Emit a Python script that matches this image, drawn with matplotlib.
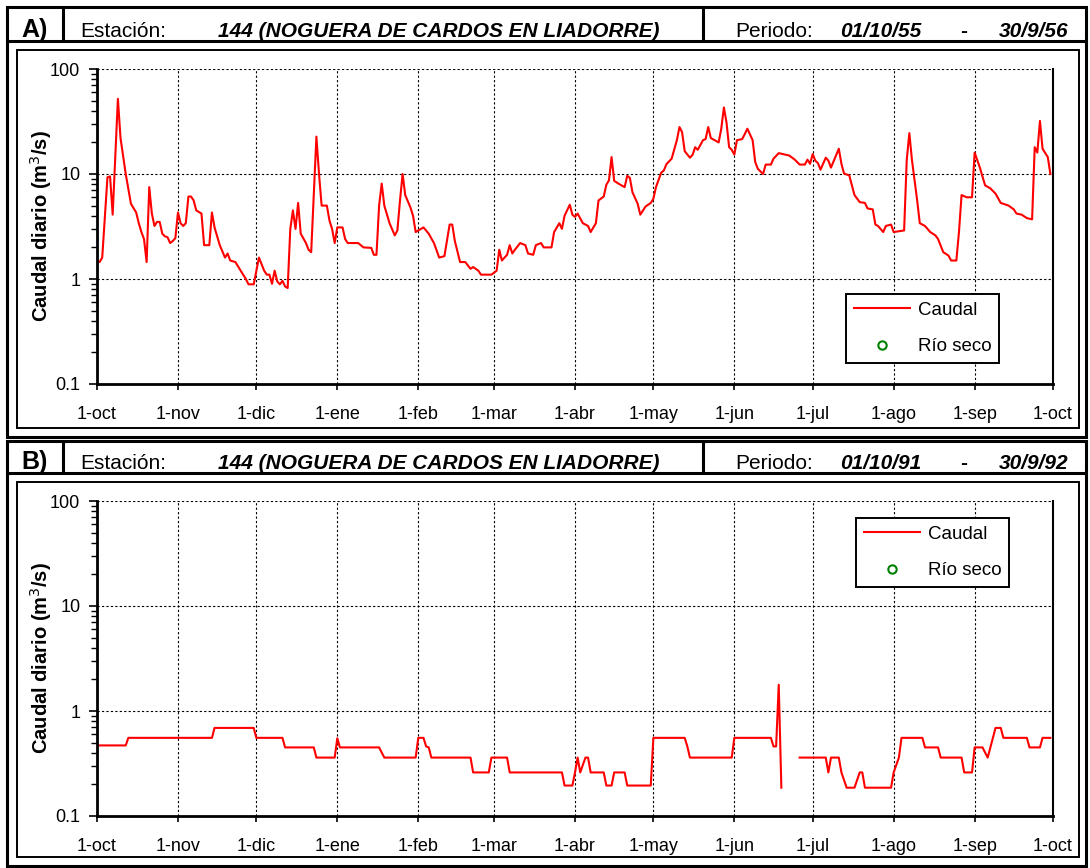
import numpy as np
import pandas as pd
import matplotlib
matplotlib.use('Agg')
import matplotlib.pyplot as plt
from matplotlib.patches import Rectangle
from matplotlib.lines import Line2D
from matplotlib.ticker import FixedLocator, NullFormatter, LogLocator

plt.rcParams['font.family'] = ['Liberation Sans', 'DejaVu Sans']

# --- datos ---------------------------------------------------------------
estacion = '144 (NOGUERA DE CARDOS EN LIADORRE)'
month_labels = ['1-oct', '1-nov', '1-dic', '1-ene', '1-feb', '1-mar', '1-abr',
                '1-may', '1-jun', '1-jul', '1-ago', '1-sep', '1-oct']

# A) 01/10/55 - 30/9/56 : dia desde el 1-oct, caudal (m3/s)
dias_a = [0, 1, 2, 4, 5, 6, 8, 9, 11, 12, 13, 15, 16, 17, 18, 19, 20, 21, 22, 23,
          24, 25, 26, 27, 28, 29, 30, 31, 32, 33, 34, 35, 36, 37, 38, 40, 41, 43, 44, 45,
          47, 49, 50, 51, 53, 55, 57, 58, 60, 62, 64, 65, 66, 67, 68, 69, 70, 71, 72, 73,
          74, 75, 76, 77, 78, 80, 81, 82, 84, 85, 86, 88, 89, 90, 91, 92, 94, 95, 96, 98,
          100, 102, 105, 106, 107, 108, 109, 110, 112, 114, 115, 116, 117, 118, 120, 121, 122, 124, 125, 127,
          129, 131, 133, 135, 136, 137, 139, 141, 143, 144, 146, 147, 151, 153, 154, 155, 157, 158, 159, 160,
          162, 164, 165, 167, 168, 170, 171, 174, 175, 177, 178, 179, 181, 182, 183, 184, 186, 188, 189, 191,
          192, 194, 195, 196, 197, 198, 200, 202, 203, 204, 205, 207, 208, 210, 212, 213, 214, 216, 217, 218,
          220, 222, 223, 224, 225, 227, 228, 229, 230, 232, 233, 234, 235, 238, 239, 240, 241, 242, 243, 244,
          245, 247, 248, 249, 251, 252, 253, 255, 256, 258, 259, 261, 265, 267, 269, 271, 272, 273, 274, 275,
          276, 277, 279, 280, 281, 284, 285, 286, 288, 290, 292, 294, 295, 297, 298, 299, 301, 302, 304, 305,
          309, 310, 311, 312, 314, 315, 317, 319, 321, 322, 324, 326, 327, 329, 330, 331, 333, 335, 336, 338,
          340, 342, 344, 346, 349, 351, 352, 354, 356, 358, 359, 360, 361, 362, 364, 365]
caudal_a = [1.5, 1.45, 1.6, 9.3, 9.5, 4.1, 52, 22, 10, 7.2, 5.2, 4.3, 3.4, 2.8, 2.4, 1.45, 7.5, 4.2, 3.2, 3.5,
            3.5, 2.7, 2.55, 2.5, 2.2, 2.3, 2.45, 4.3, 3.4, 3.2, 3.4, 6.1, 6.1, 5.6, 4.5, 4.2, 2.1, 2.1, 4.3, 3.1,
            2.1, 1.6, 1.75, 1.5, 1.45, 1.2, 1.0, 0.89, 0.89, 1.6, 1.2, 1.1, 1.1, 0.9, 1.2, 0.95, 0.89, 0.96, 0.85, 0.82,
            3.0, 4.5, 3.0, 5.3, 2.7, 2.2, 1.9, 1.8, 22.7, 10, 5.0, 5.0, 3.6, 3.0, 2.2, 3.1, 3.1, 2.4, 2.2, 2.2,
            2.2, 2.0, 1.98, 1.7, 1.7, 5.0, 8.1, 5.0, 3.4, 2.6, 2.9, 5.6, 10, 6.3, 4.8, 4.0, 2.8, 3.0, 3.1, 2.7,
            2.2, 1.6, 1.65, 3.3, 3.3, 2.3, 1.45, 1.45, 1.25, 1.3, 1.2, 1.1, 1.1, 1.2, 1.9, 1.5, 1.7, 2.1, 1.75, 1.9,
            2.2, 2.1, 1.75, 1.7, 2.1, 2.2, 2.0, 2.0, 2.8, 3.4, 3.0, 4.0, 5.1, 4.1, 3.9, 4.2, 3.4, 3.2, 2.8, 3.4,
            5.6, 6.1, 7.9, 8.7, 14.5, 8.6, 8.0, 7.5, 9.6, 9.2, 6.7, 5.2, 4.1, 4.9, 5.3, 5.8, 7.5, 10.3, 10.8, 12.4,
            14, 21, 28, 25, 16.5, 14.3, 15.2, 18, 17, 21, 21.5, 28, 22, 20, 27, 43, 31, 18, 17, 15.3,
            21, 21.5, 24, 27, 21, 13, 11.2, 10, 12.3, 12.3, 14, 15.8, 15.0, 13.8, 12.3, 12.3, 13.7, 12.5, 15.5, 13.4,
            12.7, 11, 14.3, 13.4, 11.5, 17.4, 12.5, 10.1, 9.7, 6.3, 5.4, 5.3, 4.7, 4.6, 3.3, 3.2, 2.8, 3.2, 3.3, 2.8,
            2.9, 13.6, 24.5, 13.6, 5.6, 3.4, 3.2, 2.8, 2.6, 2.4, 1.8, 1.67, 1.5, 1.5, 2.8, 6.3, 6.0, 6.0, 16, 11.5,
            7.8, 7.3, 6.5, 5.3, 5.0, 4.6, 4.2, 4.1, 3.8, 3.7, 18, 16, 32, 17.4, 14.5, 10]

# B) 01/10/91 - 30/9/92 (hueco sin datos a finales de junio)
dias_b = [0, 11, 12, 44, 45, 60, 61, 71, 72, 83, 84, 91, 92, 93, 108, 110, 122, 123, 125, 126,
          127, 128, 143, 144, 150, 151, 157, 158, 178, 179, 182, 183, 184, 185, 187, 188, 189, 194, 195, 197,
          198, 202, 203, 212, 213, 225, 226, 227, 243, 244, 258, 259, 260, 261, 262, 265, 269, 279, 280, 281,
          284, 285, 287, 290, 292, 293, 294, 304, 305, 307, 308, 316, 317, 322, 323, 331, 332, 335, 336, 339,
          341, 344, 346, 347, 356, 357, 361, 362, 365]
caudal_b = [0.47, 0.47, 0.555, 0.555, 0.69, 0.69, 0.555, 0.555, 0.45, 0.45, 0.36, 0.36, 0.55, 0.45, 0.45, 0.36, 0.36, 0.555, 0.555, 0.46,
            0.45, 0.36, 0.36, 0.26, 0.26, 0.36, 0.36, 0.26, 0.26, 0.195, 0.195, 0.26, 0.36, 0.26, 0.36, 0.36, 0.26, 0.26, 0.195, 0.195,
            0.26, 0.26, 0.195, 0.195, 0.555, 0.555, 0.46, 0.36, 0.36, 0.555, 0.555, 0.46, 0.46, 1.78, 0.186, np.nan, 0.36, 0.36, 0.26, 0.36,
            0.36, 0.26, 0.186, 0.186, 0.26, 0.26, 0.186, 0.186, 0.26, 0.36, 0.555, 0.555, 0.45, 0.45, 0.36, 0.36, 0.26, 0.26, 0.45, 0.45,
            0.36, 0.69, 0.69, 0.555, 0.555, 0.45, 0.45, 0.555, 0.555]

W, H = 1090, 868
fig = plt.figure(figsize=(W / 100, H / 100), dpi=100)


def fx(x):
    return x / W


def fy(y):
    return 1 - y / H


def rect(x0, y0, x1, y1, lw):
    fig.add_artist(Rectangle((fx(x0), fy(y1)), fx(x1) - fx(x0), fy(y0) - fy(y1),
                             transform=fig.transFigure, fill=False, lw=lw, ec='black'))


def line(x0, y0, x1, y1, lw):
    fig.add_artist(Line2D([fx(x0), fx(x1)], [fy(y0), fy(y1)], transform=fig.transFigure,
                          lw=lw, color='black', solid_capstyle='butt'))


def panel(letra, top, bottom, head_bot, ini, fin, dias, caudal, start, leg_xy):
    # marcos
    rect(7, top, 1086, bottom, 2.2)
    line(7, head_bot, 1086, head_bot, 2.2)
    line(63, top, 63, head_bot, 2.2)
    line(703, top, 703, head_bot, 2.2)
    rect(17, head_bot + 9, 1079, bottom - 9, 1.4)

    # cabecera
    yb = fy(head_bot - 4)
    fig.text(fx(35), yb, letra, fontsize=18, fontweight='bold', ha='center', va='baseline')
    fig.text(fx(80), yb, 'Estación:', fontsize=15, va='baseline')
    fig.text(fx(218), yb, estacion, fontsize=15, fontweight='bold', style='italic', va='baseline')
    fig.text(fx(735), yb, 'Periodo:', fontsize=15, va='baseline')
    fig.text(fx(840), yb, ini, fontsize=15, fontweight='bold', style='italic', va='baseline')
    fig.text(fx(960), yb, '-', fontsize=15, fontweight='bold', va='baseline')
    fig.text(fx(1068), yb, fin, fontsize=15, fontweight='bold', style='italic', ha='right', va='baseline')

    # grafico
    ax_top = head_bot + 28
    ax_bot = ax_top + 315
    x0, x1 = 97, 1053
    ax = fig.add_axes([fx(x0), fy(ax_bot), fx(x1) - fx(x0), fy(ax_top) - fy(ax_bot)])
    ax.plot(dias, caudal, color='#ff0000', lw=1.5, label='Caudal')
    ax.plot([], [], 'o', mfc='none', mec='#008000', ms=6, mew=1.5, label='Río seco')
    ax.set_yscale('log')
    ax.set_ylim(0.1, 100)
    ax.set_xlim(0, 366)

    t0 = pd.Timestamp(start)
    months = pd.date_range(t0, periods=13, freq='MS')
    ax.xaxis.set_major_locator(FixedLocator([(m - t0).days for m in months]))
    ax.set_xticklabels(month_labels)
    ax.yaxis.set_major_locator(FixedLocator([0.1, 1, 10, 100]))
    ax.set_yticklabels(['0.1', '1', '10', '100'])
    ax.yaxis.set_minor_locator(LogLocator(base=10, subs=np.arange(2, 10)))
    ax.yaxis.set_minor_formatter(NullFormatter())

    ax.tick_params(axis='x', which='major', length=4, width=1.2, pad=12, labelsize=13)
    ax.tick_params(axis='y', which='major', length=6, width=1.2, pad=6, labelsize=13)
    ax.tick_params(axis='y', which='minor', length=4, width=1.0)
    ax.grid(True, which='major', color='black', lw=0.8, ls=(0, (2, 2)))
    ax.set_axisbelow(True)
    for s in ['left', 'bottom']:
        ax.spines[s].set_linewidth(2)
    ax.spines['right'].set_linewidth(1.5)
    ax.spines['top'].set_visible(False)

    ax.set_ylabel('Caudal diario (m$^3$/s)', fontsize=14.5, fontweight='bold')
    ax.yaxis.set_label_coords((54 - x0) / (x1 - x0), 0.5)

    leg = ax.legend(loc='upper left', bbox_to_anchor=(fx(leg_xy[0]), fy(leg_xy[1])),
                    bbox_transform=fig.transFigure, fontsize=13.5, frameon=True, fancybox=False,
                    edgecolor='black', framealpha=1, handlelength=3.0, labelspacing=1.05,
                    borderpad=0.4, handletextpad=0.45, borderaxespad=0)
    leg.get_frame().set_linewidth(1.4)


panel('A)', 7, 437, 41, '01/10/55', '30/9/56', dias_a, caudal_a, '1955-10-01', (846, 294))
panel('B)', 441, 866, 473, '01/10/91', '30/9/92', dias_b, caudal_b, '1991-10-01', (856, 518))

fig.savefig('out.png', dpi=100)
